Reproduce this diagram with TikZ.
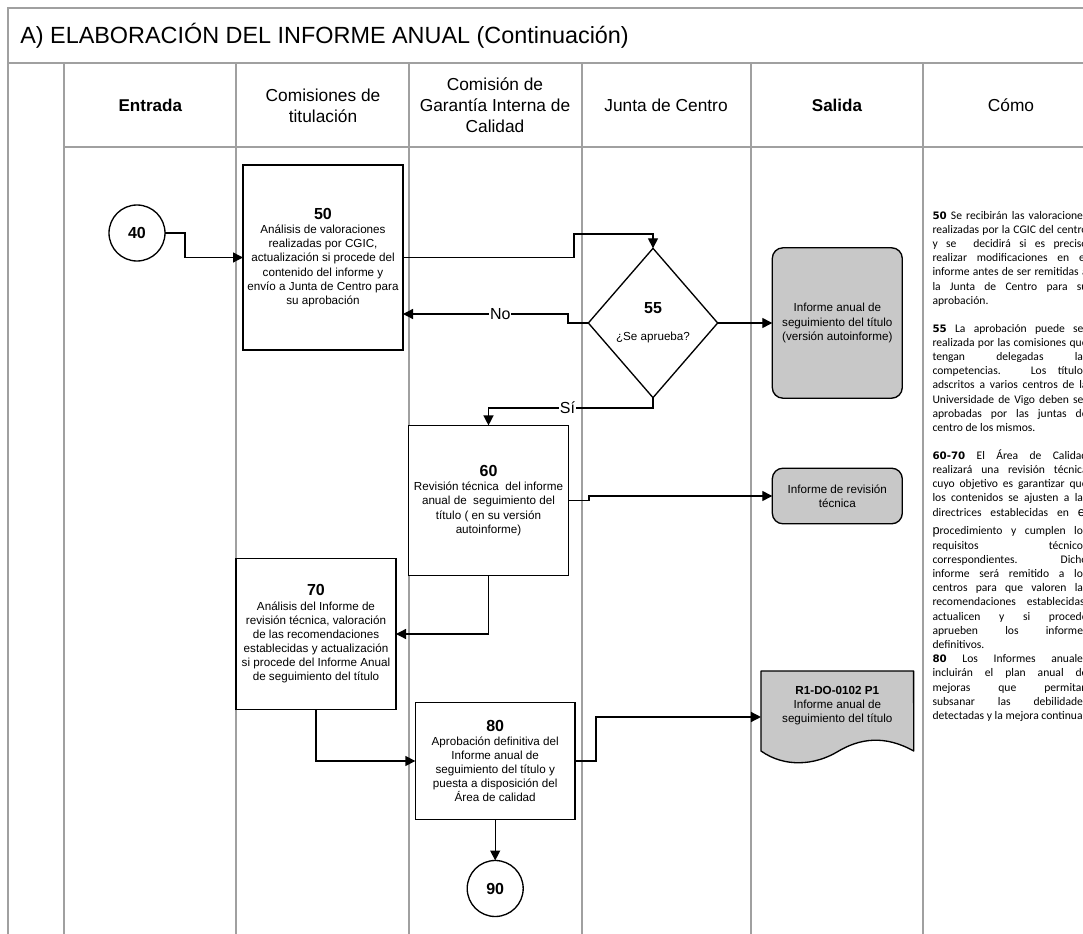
\documentclass[tikz,border=0pt]{standalone}
\usepackage{fontspec}
\usetikzlibrary{arrows.meta,shapes.geometric}
\setmainfont{Liberation Sans}
\newfontfamily\comofont{Carlito}
\newfontfamily\comonum{DejaVu Sans}
\newdimen\comoW \comoW=116.3pt
\newcommand{\jl}[1]{\hbox to \comoW{#1}}
\newcommand{\lft}[1]{\hbox{#1}}
\newcommand{\nb}[1]{{\comonum\bfseries\fontsize{7.7}{10}\selectfont #1}}
\newcommand{\numt}[1]{{\fontsize{12}{14}\selectfont\bfseries #1}}
\definecolor{laneg}{HTML}{A0A0A0}
\definecolor{outg}{HTML}{C8C8C8}
\tikzset{
  lane/.style={draw=laneg,line width=1.1pt},
  conn/.style={draw=black,line width=1pt},
  arr/.style={conn,-{Triangle[length=7.5pt,width=7.5pt]}},
  txt/.style={font=\fontsize{8.75}{10.6}\selectfont,align=center,inner sep=0pt,outer sep=0pt},
  head/.style={font=\fontsize{13}{15.8}\selectfont,align=center,inner sep=0pt},
  headb/.style={head,font=\fontsize{12.8}{15.8}\selectfont\bfseries},
  proc/.style={txt,draw=black,fill=white,line width=1pt},
  outbox/.style={txt,draw=black,fill=outg,line width=1pt,rounded corners=8pt},
  circ/.style={circle,draw=black,fill=white,line width=1pt,minimum size=42pt,inner sep=0pt,outer sep=0pt,font=\fontsize{12}{14}\selectfont\bfseries},
  lbl/.style={font=\fontsize{12}{14}\selectfont,fill=white,inner sep=.6pt}
}
\begin{document}
\begin{tikzpicture}[x=.75pt,y=-.75pt]
\useasboundingbox (0,0) rectangle (1083,934);
\fill[white] (0,0) rectangle (1083,934);
% frame and lanes
\draw[lane] (1083,8) -- (8,8) -- (8,934);
\draw[lane] (8,63) -- (1083,63);
\draw[lane] (64,147) -- (1083,147);
\foreach \cx in {64,236,409,582,751,923} \draw[lane] (\cx,63) -- (\cx,934);
% title and heads
\node[anchor=west,inner sep=0pt,font=\fontsize{17.55}{22}\selectfont] (title) at (20,35.5) {A) ELABORACIÓN DEL INFORME ANUAL (Continuación)};
\node[headb] (h1) at (150.3,105.5) {Entrada};
\node[head] (h2) at (323,105.5) {Comisiones de\\titulación};
\node[head] (h3) at (495,105.5) {Comisión de\\Garantía Interna de\\Calidad};
\node[head] (h4) at (666,105.5) {Junta de Centro};
\node[headb] (h5) at (837,105.5) {Salida};
\node[head] (h6) at (1011,105.5) {Cómo};
% shapes
\node[circ] (c40) at (137,233) {40};
\node[proc,minimum width=120pt,minimum height=138.75pt] (b50) at (323,257.5) {\numt{50}\\Análisis de valoraciones\\realizadas por CGIC,\\actualización si procede del\\contenido del informe y\\envío a Junta de Centro para\\su aprobación};
\node[txt,shape=diamond,draw=black,fill=white,line width=1pt,minimum width=97pt,minimum height=112pt] (d55) at (653,323) {\numt{55}\\[9.5pt]¿Se aprueba?};
\node[outbox,minimum width=97.5pt,minimum height=112.8pt] (o1) at (837.3,323) {Informe anual de\\seguimiento del título\\(versión autoinforme)};
\node[proc,minimum width=119.7pt,minimum height=112.6pt] (b60) at (488.5,500.5) {\numt{60}\\Revisión técnica~ del informe\\anual de~ seguimiento del\\título ( en su versión\\autoinforme)};
\node[outbox,minimum width=97.5pt,minimum height=41.7pt] (o2) at (837.3,496) {Informe de revisión\\técnica};
\node[proc,minimum width=120pt,minimum height=113.2pt] (b70) at (316,634) {\numt{70}\\Análisis del Informe de\\revisión técnica, valoración\\de las recomendaciones\\establecidas y actualización\\si procede del Informe Anual\\de seguimiento del título};
\node[proc,minimum width=119.8pt,minimum height=87.5pt] (b80) at (495.2,761) {\numt{80}\\Aprobación definitiva del\\Informe anual de\\seguimiento del título y\\puesta a disposición del\\Área de calidad};
\node[circ] (c90) at (495.2,888.5) {90};
\node[inner sep=0pt,outer sep=0pt,minimum width=114.5pt,minimum height=69pt] (doc) at (837.3,717) {};
\draw[fill=outg,line width=1pt,line join=round] (doc.north west) -- (doc.north east) -- (913.7,751) .. controls (885,735) and (860,738) .. (837,752) .. controls (815,765) and (785,768) .. (761,751) -- cycle;
\node[txt,font=\fontsize{8.75}{10.6}\selectfont] (doct) at (837.3,706) {\textbf{R1-DO-0102 P1}\\Informe anual de\\seguimiento del título};
% connectors
\coordinate (j1) at (185,233);
\coordinate (j2) at (185,257.5);
\draw[arr] (c40.east) -- (j1) -- (j2) -- (b50.west);
\coordinate (k1) at (574,257.5);
\coordinate (k2) at (574,234);
\coordinate (k3) at (653,234);
\draw[arr] (b50.east) -- (k1) -- (k2) -- (k3) -- (d55.north);
\coordinate (n1) at (568,323);
\coordinate (n2) at (568,314);
\coordinate (n3) at (b50.east |- n2);
\draw[arr] (d55.west) -- (n1) -- (n2) -- node[lbl,pos=.41] (lno) {No} (n3);
\coordinate (s1) at (653,408);
\coordinate (s2) at (488.5,408);
\draw[arr] (d55.south) -- (s1) -- node[lbl,pos=.52] (lsi) {Sí} (s2) -- (b60.north);
\draw[arr] (d55.east) -- (o1.west);
\coordinate (r1) at (589,500.5);
\coordinate (r2) at (589,496);
\draw[arr] (b60.east) -- (r1) -- (r2) -- (o2.west);
\coordinate (t1) at (488.5,634);
\draw[arr] (b60.south) -- (t1) -- (b70.east);
\coordinate (u1) at (316,761);
\draw[arr] (b70.south) -- (u1) -- (b80.west);
\draw[arr] (b80.south) -- (c90.north);
\coordinate (v1) at (596,761);
\coordinate (v2) at (596,717);
\draw[arr] (b80.east) -- (v1) -- (v2) -- (doc.west);
% right column
\begin{scope}
\clip (924,148) rectangle (1083,934);
\node[anchor=north west,inner sep=0pt,outer sep=0pt] (como) at (932.5,211) {\vbox{\comofont\fontsize{8.7}{10.65}\selectfont\baselineskip=10.65pt\hsize=\comoW\parindent=0pt
\jl{\nb{50} Se recibirán las valoraciones}
\jl{realizadas por la CGIC del centro}
\jl{y se~ decidirá si es preciso}
\jl{realizar modificaciones en el}
\jl{informe antes de ser remitidas a}
\jl{la Junta de Centro para su}
\lft{aprobación.}
\vskip 10.2pt
\jl{\nb{55} La aprobación puede ser}
\jl{realizada por las comisiones que}
\jl{tengan delegadas las}
\jl{competencias. Los títulos}
\jl{adscritos a varios centros de la}
\jl{Universidade de Vigo deben ser}
\jl{aprobadas por las juntas de}
\lft{centro de los mismos.}
\vskip 10.2pt
\jl{\nb{60-70} El Área de Calidad}
\jl{realizará una revisión técnica}
\jl{cuyo objetivo es garantizar que}
\jl{los contenidos se ajusten a las}
\jl{directrices establecidas en {\rmfamily\fontsize{9.6}{10}\selectfont e}l}
\vskip 3.5pt
\jl{{\rmfamily\fontsize{9.6}{10}\selectfont p}rocedimiento y cumplen los}
\jl{requisitos técnicos}
\jl{correspondientes. Dicho}
\jl{informe será remitido a los}
\jl{centros para que valoren las}
\jl{recomendaciones establecidas,}
\jl{actualicen y si procede}
\jl{aprueben los informes}
\lft{definitivos.}
\jl{\nb{80} Los Informes anuales}
\jl{incluirán el plan anual de}
\jl{mejoras que permitan}
\jl{subsanar las debilidades}
\lft{detectadas y la mejora continua}
}};
\end{scope}
\end{tikzpicture}
\end{document}
